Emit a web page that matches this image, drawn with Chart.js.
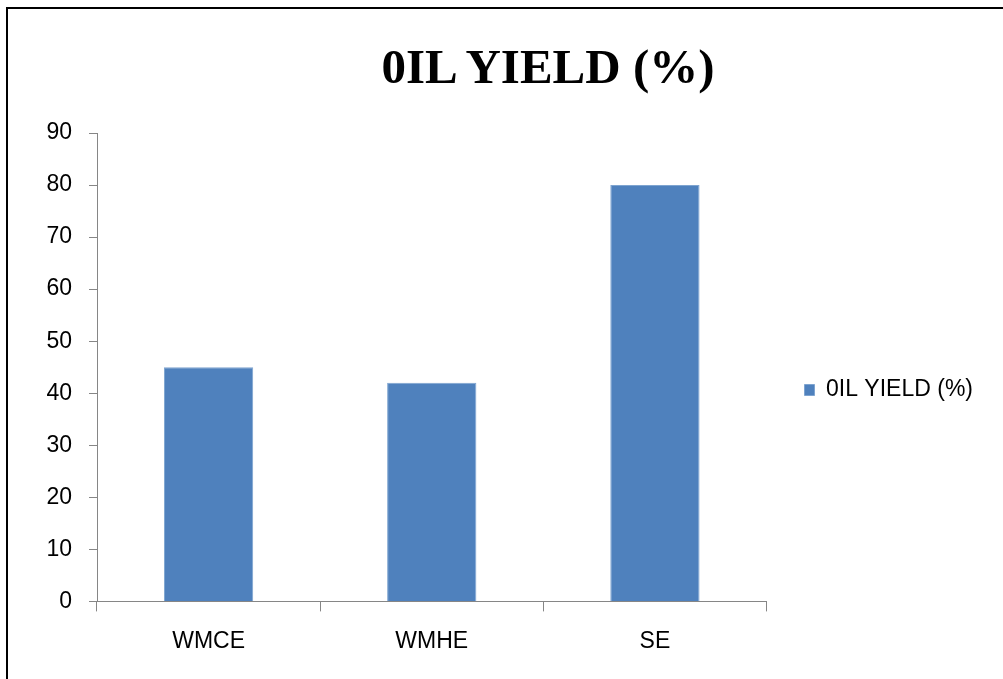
<!DOCTYPE html>
<html>
<head>
<meta charset="utf-8">
<script src="https://cdn.jsdelivr.net/npm/chart.js@4"></script>
<style>
  html, body { margin: 0; padding: 0; background: #fff; overflow: hidden; }
  #wrap { position: relative; width: 1003px; height: 679px; }
  #frame {
    position: absolute; left: 6px; top: 7px; right: -10px; bottom: -10px;
    border-left: 2px solid #000; border-top: 2px solid #000;
  }
  #title {
    position: absolute; left: 548px; top: 42px; transform: translateX(-50%);
    white-space: nowrap; font: bold 49px/49px 'Liberation Serif', 'Times New Roman', serif;
    color: #000;
  }
  #oilChart { position: absolute; left: 0; top: 0; }
</style>
</head>
<body>
<div id="wrap">
  <div id="frame"></div>
  <canvas id="oilChart" width="1003" height="679"></canvas>
  <div id="title">0IL YIELD (%)</div>
</div>
<script>
// Extraction methods and oil yield
const methods = ['WMCE', 'WMHE', 'SE'];
const oilYield = [45, 42, 80];
const seriesName = '0IL YIELD (%)';
const yTicks = [0, 10, 20, 30, 40, 50, 60, 70, 80, 90];

const axisGrey = '#868686';
const labelFont = { family: "'Liberation Sans', Arial, sans-serif", size: 23 };

// nudge the side legend so it sits level with the middle of the plot
const legendNudge = {
    id: 'legendNudge',
    afterLayout: function (chart) {
        const lg = chart.legend;
        if (!lg) return;
        lg.top -= 12; lg.bottom -= 12;
        lg.left -= 4; lg.right -= 4;
    }
};

document.addEventListener('DOMContentLoaded', function () {
    const ctx = document.getElementById('oilChart').getContext('2d');

    new Chart(ctx, {
        type: 'bar',
        data: {
            labels: methods,
            datasets: [{
                label: seriesName,
                data: oilYield,
                backgroundColor: '#4f81bd',
                borderColor: '#7ea4d0',
                borderWidth: 1,
                categoryPercentage: 1,
                barPercentage: 0.4
            }]
        },
        options: {
            responsive: false,
            devicePixelRatio: 1,
            animation: false,
            layout: {
                padding: { top: 133, bottom: 8, left: 0, right: 16 }
            },
            plugins: {
                title: { display: false },
                tooltip: { enabled: false },
                legend: {
                    position: 'right',
                    labels: {
                        boxWidth: 10,
                        boxHeight: 11,
                        padding: 42,
                        color: '#000',
                        font: labelFont
                    }
                }
            },
            scales: {
                y: {
                    min: 0,
                    max: 90,
                    afterFit: function (scale) { scale.width = 97; },
                    afterBuildTicks: function (scale) {
                        scale.ticks = yTicks.map(v => ({ value: v }));
                    },
                    border: { color: axisGrey, width: 1 },
                    grid: {
                        drawOnChartArea: false,
                        drawTicks: true,
                        tickLength: 8,
                        color: axisGrey
                    },
                    ticks: {
                        padding: 17,
                        color: '#000',
                        font: labelFont
                    }
                },
                x: {
                    border: { color: axisGrey, width: 1 },
                    grid: {
                        offset: true,
                        drawOnChartArea: false,
                        drawTicks: true,
                        tickLength: 10,
                        color: axisGrey
                    },
                    ticks: {
                        padding: 16,
                        color: '#000',
                        font: labelFont
                    }
                }
            }
        },
        plugins: [legendNudge]
    });
});
</script>
</body>
</html>
